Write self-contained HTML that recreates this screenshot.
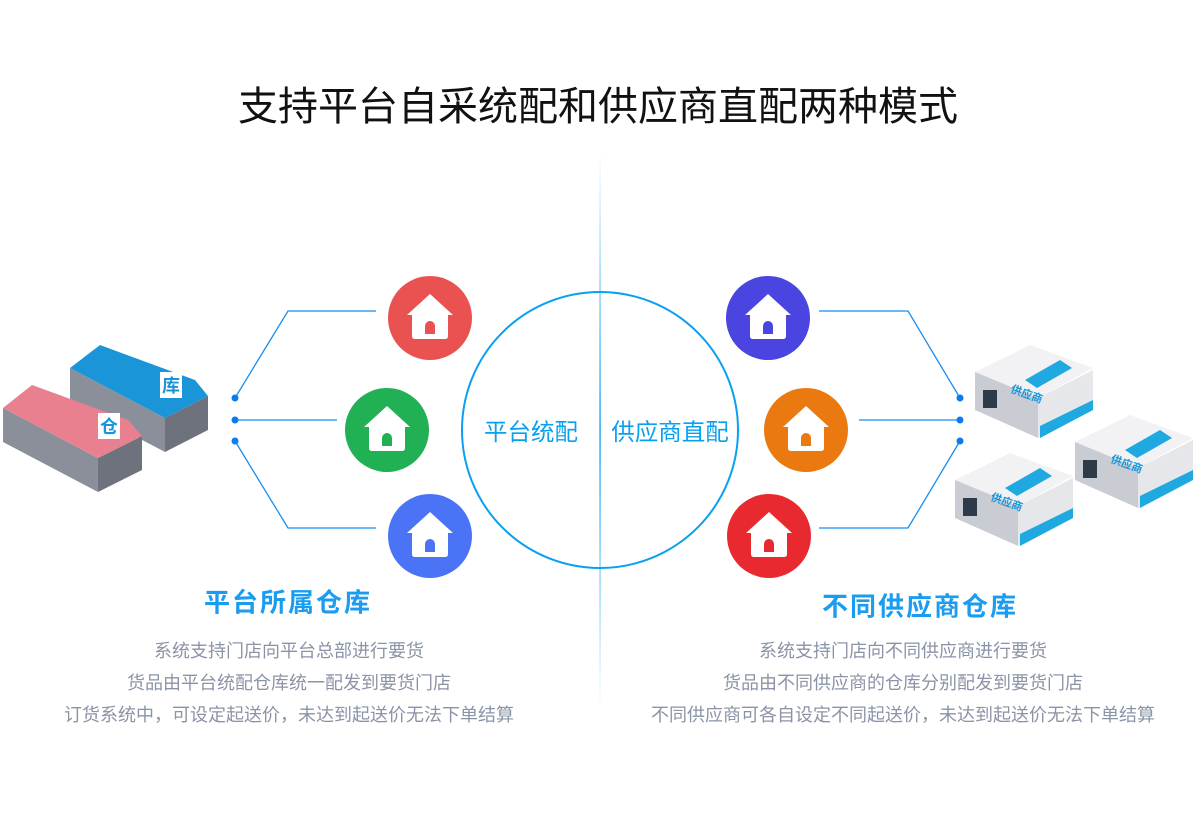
<!DOCTYPE html>
<html><head><meta charset="utf-8"><style>
body{margin:0;width:1200px;height:818px;background:#fff;position:relative;overflow:hidden;font-family:"Liberation Sans","Noto Sans CJK SC",sans-serif}
.t{position:absolute;white-space:nowrap;transform:translate(-50%,-50%)}
</style></head><body>
<svg width="1200" height="818" style="position:absolute;left:0;top:0">
<defs>
<linearGradient id="vg" x1="0" y1="0" x2="0" y2="1"><stop offset="0" stop-color="#0aa0f0" stop-opacity="0"/><stop offset="0.5" stop-color="#0aa0f0" stop-opacity="0.9"/><stop offset="1" stop-color="#0aa0f0" stop-opacity="0"/></linearGradient>
<g id="house"><path d="M0,-24 L-23,-3 L-18,-3 L-18,18 Q-18,21 -15,21 L15,21 Q18,21 18,18 L18,-3 L23,-3 Z" fill="#fff"/></g>
</defs>
<rect x="599.3" y="150" width="1.5" height="560" fill="url(#vg)"/>
<circle cx="600" cy="430" r="138" fill="none" stroke="#0aa0f0" stroke-width="2"/>
<g fill="none" stroke="#1a8cf0" stroke-width="1.3">
<polyline points="235,398 288,311 376,311"/><line x1="235" y1="420" x2="337" y2="420"/><polyline points="235,441 288,528 376,528"/>
<polyline points="960,398 908,311 819,311"/><line x1="960" y1="420" x2="859" y2="420"/><polyline points="960,441 908,528 819,528"/>
</g>
<g fill="#0a7cf0"><circle cx="235" cy="398" r="3.5"/><circle cx="235" cy="420" r="3.5"/><circle cx="235" cy="441" r="3.5"/><circle cx="960" cy="398" r="3.5"/><circle cx="960" cy="420" r="3.5"/><circle cx="960" cy="441" r="3.5"/></g>
<g>
<circle cx="430" cy="318" r="42" fill="#ea5252"/><use href="#house" x="430" y="318"/><path d="M425,334 v-8 a5,5 0 0 1 10,0 v8z" fill="#ea5252"/>
<circle cx="387" cy="430" r="42" fill="#22b055"/><use href="#house" x="387" y="430"/><path d="M382,446 v-8 a5,5 0 0 1 10,0 v8z" fill="#22b055"/>
<circle cx="430" cy="536" r="42" fill="#4a74f5"/><use href="#house" x="430" y="536"/><path d="M425,552 v-8 a5,5 0 0 1 10,0 v8z" fill="#4a74f5"/>
<circle cx="768" cy="318" r="42" fill="#4a44e0"/><use href="#house" x="768" y="318"/><path d="M763,334 v-8 a5,5 0 0 1 10,0 v8z" fill="#4a44e0"/>
<circle cx="806" cy="430" r="42" fill="#ea7a10"/><use href="#house" x="806" y="430"/><path d="M801,446 v-8 a5,5 0 0 1 10,0 v8z" fill="#ea7a10"/>
<circle cx="769" cy="536" r="42" fill="#e8292f"/><use href="#house" x="769" y="536"/><path d="M764,552 v-8 a5,5 0 0 1 10,0 v8z" fill="#e8292f"/>
</g>
<g>
<polygon points="70,368 165,418 165,452 70,402" fill="#8a8f9a"/>
<polygon points="165,418 208,396 208,430 165,452" fill="#6d727d"/>
<polygon points="70,368 100,345 195,380 208,396 165,418" fill="#1a96d8"/>
<rect x="160" y="372" width="22" height="26" fill="#fff"/><text x="171" y="392" font-size="18" fill="#1a96d8" text-anchor="middle" font-weight="bold">库</text>
<polygon points="3,408 98,458 98,492 3,442" fill="#8a8f9a"/>
<polygon points="98,458 142,436 142,470 98,492" fill="#6d727d"/>
<polygon points="3,408 32,385 128,420 142,436 98,458" fill="#e88090"/>
<rect x="98" y="413" width="22" height="26" fill="#fff"/><text x="109" y="433" font-size="18" fill="#1a96d8" text-anchor="middle" font-weight="bold">仓</text>
</g>
<g id="sup">
<polygon points="975,372 1030,345 1093,368 1038,398" fill="#f2f2f4"/>
<polygon points="975,372 1038,398 1038,438 975,410" fill="#c9ccd2"/>
<polygon points="1038,398 1093,370 1093,410 1038,438" fill="#e6e7ea"/>
<polygon points="1025,380 1060,360 1072,368 1037,388" fill="#20a8e0"/>
<polygon points="1040,426 1093,400 1093,410 1040,438" fill="#20a8e0"/>
<rect x="983" y="390" width="14" height="18" fill="#2c3a4a"/>
<text x="1010" y="392" font-size="11" fill="#1a96d8" font-weight="bold" transform="rotate(20 1010 392)">供应商</text>
</g>
<use href="#sup" x="100" y="70"/>
<use href="#sup" x="-20" y="108"/>
</svg>
<div class="t" style="left:598px;top:103px;font-size:40px;color:#111">支持平台自采统配和供应商直配两种模式</div>
<div class="t" style="left:531px;top:430px;font-size:23.5px;color:#0aa0f0">平台统配</div>
<div class="t" style="left:670px;top:430px;font-size:23.5px;color:#0aa0f0">供应商直配</div>
<div class="t" style="left:288px;top:601px;font-size:26px;letter-spacing:2px;font-weight:bold;color:#1a9cf0">平台所属仓库</div>
<div class="t" style="left:920px;top:605px;font-size:26px;letter-spacing:2px;font-weight:bold;color:#1a9cf0">不同供应商仓库</div>
<div class="t" style="left:289px;top:650px;font-size:18px;color:#8a94a6">系统支持门店向平台总部进行要货</div>
<div class="t" style="left:289px;top:682px;font-size:18px;color:#8a94a6">货品由平台统配仓库统一配发到要货门店</div>
<div class="t" style="left:289px;top:714px;font-size:18px;color:#8a94a6">订货系统中，可设定起送价，未达到起送价无法下单结算</div>
<div class="t" style="left:903px;top:650px;font-size:18px;color:#8a94a6">系统支持门店向不同供应商进行要货</div>
<div class="t" style="left:903px;top:682px;font-size:18px;color:#8a94a6">货品由不同供应商的仓库分别配发到要货门店</div>
<div class="t" style="left:903px;top:714px;font-size:18px;color:#8a94a6">不同供应商可各自设定不同起送价，未达到起送价无法下单结算</div>
</body></html>
